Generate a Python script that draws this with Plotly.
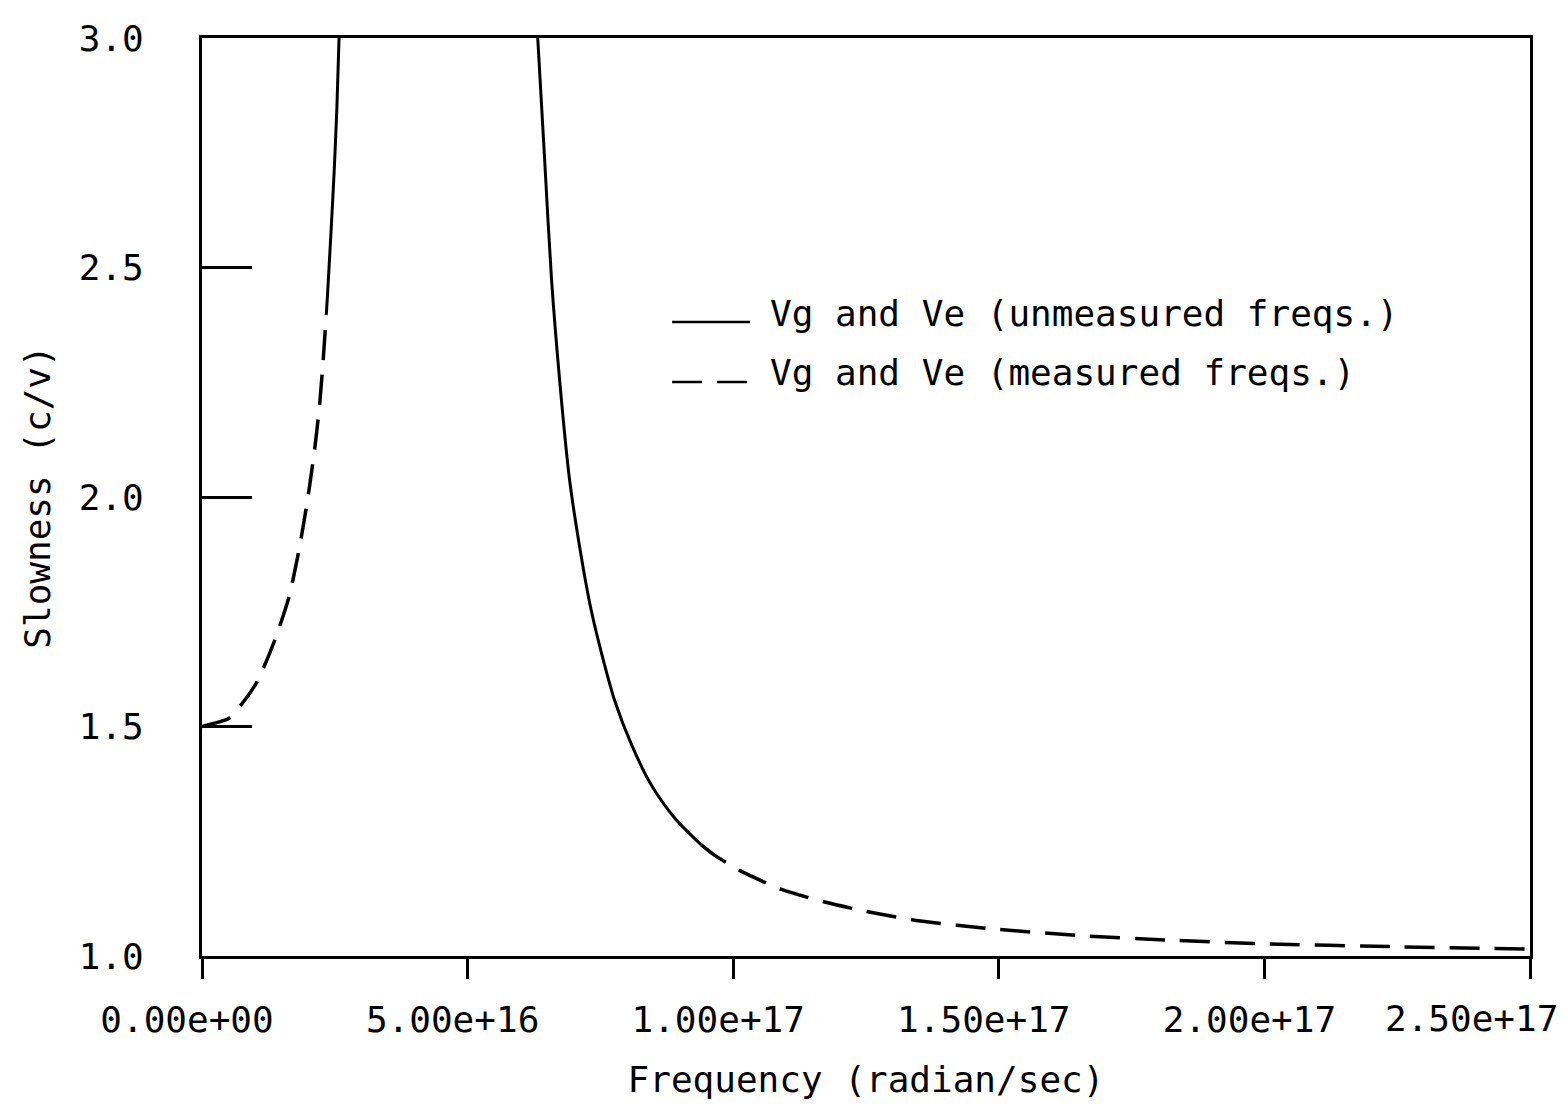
import plotly.graph_objects as go

# ---- data (frequency in rad/s, slowness c/v) ----
left_meas_x = [0.0, 0.51e16, 0.72e16, 1.04e16, 1.38e16, 1.64e16, 1.83e16, 1.98e16, 2.11e16, 2.21e16, 2.28e16, 2.34e16]
left_meas_y = [1.500, 1.518, 1.545, 1.598, 1.691, 1.783, 1.887, 1.989, 2.094, 2.196, 2.296, 2.398]

left_unmeas_x = [2.34e16, 2.36e16, 2.43e16, 2.49e16, 2.54e16, 2.58e16]
left_unmeas_y = [2.398, 2.435, 2.580, 2.714, 2.850, 3.000]

right_unmeas_x = [6.32e16, 6.45e16, 6.58e16, 6.74e16, 6.92e16, 7.13e16, 7.32e16, 7.51e16, 7.77e16, 8.08e16, 8.45e16, 8.91e16, 9.40e16]
right_unmeas_y = [3.000, 2.736, 2.474, 2.245, 2.037, 1.877, 1.757, 1.665, 1.556, 1.462, 1.374, 1.299, 1.242]

right_meas_x = [9.40e16, 9.62e16, 1.013e17, 1.091e17, 1.174e17, 1.251e17, 1.336e17, 1.421e17, 1.500e17, 1.645e17, 1.815e17, 1.985e17, 2.255e17, 2.500e17]
right_meas_y = [1.242, 1.222, 1.186, 1.145, 1.117, 1.097, 1.079, 1.067, 1.058, 1.045, 1.035, 1.027, 1.020, 1.015]

x_tickvals = [0.0, 5.0e16, 1.0e17, 1.5e17, 2.0e17, 2.5e17]
x_ticktext = ["0.00e+00", "5.00e+16", "1.00e+17", "1.50e+17", "2.00e+17", "2.50e+17"]
y_tickvals = [1.0, 1.5, 2.0, 2.5, 3.0]
y_ticktext = ["1.0", "1.5", "2.0", "2.5", "3.0"]

legend_labels = ["Vg and Ve (unmeasured freqs.)", "Vg and Ve (measured freqs.)"]

FONT = "DejaVu Sans Mono"
solid = dict(color="black", width=3)
dashed = dict(color="black", width=3.5, dash="30px,15px")

fig = go.Figure()
fig.add_trace(go.Scatter(x=left_meas_x, y=left_meas_y, mode="lines", line=dict(**dashed, shape="spline", smoothing=0.6), showlegend=False))
fig.add_trace(go.Scatter(x=left_unmeas_x, y=left_unmeas_y, mode="lines", line=dict(**solid, shape="spline", smoothing=0.6), showlegend=False))
fig.add_trace(go.Scatter(x=right_unmeas_x, y=right_unmeas_y, mode="lines", line=dict(**solid, shape="spline", smoothing=0.8), showlegend=False))
fig.add_trace(go.Scatter(x=right_meas_x, y=right_meas_y, mode="lines", line=dict(**dashed, shape="spline", smoothing=0.6), showlegend=False))

# legend drawn by hand (paper coordinates)
fig.add_shape(type="line", xref="paper", yref="paper", x0=0.354, x1=0.4127, y0=0.6906, y1=0.6906, line=dict(color="black", width=2.5))
fig.add_shape(type="line", xref="paper", yref="paper", x0=0.354, x1=0.4127, y0=0.6253, y1=0.6253, line=dict(color="black", width=2.5, dash="30px,15px"))
fig.add_annotation(xref="paper", yref="paper", x=0.426, y=0.700, xanchor="left", yanchor="middle", text=legend_labels[0], showarrow=False, font=dict(family=FONT, size=36, color="black"))
fig.add_annotation(xref="paper", yref="paper", x=0.426, y=0.636, xanchor="left", yanchor="middle", text=legend_labels[1], showarrow=False, font=dict(family=FONT, size=36, color="black"))

# last x tick label: placed so it stays inside the page (right-aligned near the edge)
shown_ticktext = x_ticktext[:-1] + [""]
fig.add_annotation(xref="x", yref="paper", x=x_tickvals[-1], y=-0.0686, xanchor="right", yanchor="middle",
                   xshift=30, text=x_ticktext[-1], showarrow=False, font=dict(family=FONT, size=36, color="black"))

fig.update_xaxes(range=[0, 2.5e17], tickmode="array", tickvals=x_tickvals, ticktext=shown_ticktext,
                 ticks="outside", ticklen=20, tickwidth=3, tickcolor="black",
                 showline=True, linewidth=3, linecolor="black", mirror=True,
                 showgrid=False, zeroline=False, automargin=False,
                 tickfont=dict(family=FONT, size=36, color="black"),
                 ticklabelshift=-15, ticklabelstandoff=10, ticklabeloverflow="allow",
                 title=dict(text="Frequency (radian/sec)", font=dict(family=FONT, size=36, color="black"), standoff=28))
fig.update_yaxes(range=[1.0, 3.0], tickmode="array", tickvals=y_tickvals, ticktext=y_ticktext,
                 ticks="inside", ticklen=50, tickwidth=3, tickcolor="black",
                 showline=True, linewidth=3, linecolor="black", mirror=True,
                 showgrid=False, zeroline=False, automargin=False,
                 tickfont=dict(family=FONT, size=36, color="black"),
                 ticklabelstandoff=48,
                 title=dict(text="Slowness (c/v)", font=dict(family=FONT, size=36, color="black"), standoff=18))

# page body has an 8px default margin, so margins are reduced by 8px on left/top
fig.update_layout(width=1567, height=1109,
                  margin=dict(l=194, r=45, t=30, b=161),
                  plot_bgcolor="white", paper_bgcolor="white",
                  showlegend=False)

fig.write_html("out.html")
